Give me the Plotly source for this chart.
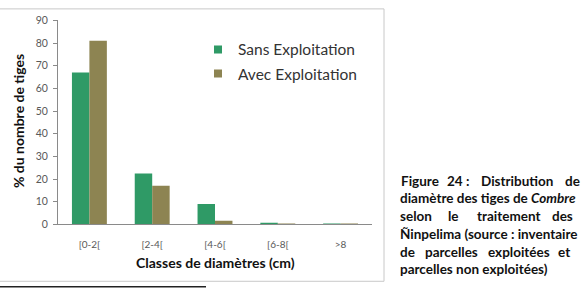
import plotly.graph_objects as go

categories = ["[0-2[", "[2-4[", "[4-6[", "[6-8[", ">8"]
sans_exploitation = [67, 22.5, 9, 0.7, 0.3]
avec_exploitation = [81, 17, 1.6, 0.1, 0.05]
series_names = ["Sans Exploitation", "Avec Exploitation"]
y_ticks = [0, 10, 20, 30, 40, 50, 60, 70, 80, 90]

GREEN = "#2f9a66"
OLIVE = "#8d8452"
FONT = "Lato"
W, H = 582, 294

def px(x):
    return x / W

def py(y):
    return (H - y) / H

fig = go.Figure()
for name, vals, col in [(series_names[0], sans_exploitation, GREEN),
                        (series_names[1], avec_exploitation, OLIVE)]:
    fig.add_trace(go.Bar(x=categories, y=vals, name=name, marker_color=col,
                         marker_line_width=0, showlegend=False))
    fig.add_trace(go.Scatter(x=[None], y=[None], mode="markers", name=name,
                             marker=dict(symbol="square", size=8, color=col),
                             legendgroup=name))

fig.update_layout(
    width=W, height=H, margin=dict(l=0, r=0, t=0, b=0),
    paper_bgcolor="white", plot_bgcolor="white",
    barmode="group", bargap=0.444, bargroupgap=0,
    font=dict(family=FONT, color="#333333"),
    xaxis=dict(domain=[px(58), px(372)], showline=True, linecolor="#8a8a8a",
               linewidth=1, ticks="", tickfont=dict(size=10, color="#595959"),
               ticklabelstandoff=11, showgrid=False, zeroline=False),
    yaxis=dict(domain=[py(227.7), py(15)], range=[0, 90], tickvals=y_ticks,
               showline=True, linecolor="#8a8a8a", linewidth=1, ticks="outside",
               ticklen=4, tickcolor="#8a8a8a", tickfont=dict(size=10.5, color="#595959"),
               ticklabelstandoff=3, showgrid=False, zeroline=False),
    legend=dict(x=px(198), y=py(28), xanchor="left", yanchor="top",
                font=dict(size=15.5, color="#333333", family=FONT),
                bgcolor="rgba(0,0,0,0)", traceorder="grouped", tracegroupgap=1,
                itemwidth=30),
    showlegend=True,
)

# chart frame and rule below
fig.add_shape(type="rect", xref="paper", yref="paper", x0=px(-2), x1=px(384),
              y0=py(287), y1=py(3), line=dict(color="#c8c8c8", width=1))
fig.add_shape(type="line", xref="paper", yref="paper", x0=0, x1=px(206),
              y0=py(292.7), y1=py(292.7), line=dict(color="#222222", width=1.5))

# axis titles
fig.add_annotation(text="<b>Classes de diamètres (cm)</b>", xref="paper", yref="paper",
                   x=px(215), y=py(267), showarrow=False, xanchor="center", yanchor="middle",
                   font=dict(size=14, color="#111111", family=FONT))
fig.add_annotation(text="<b>% du nombre de tiges</b>", xref="paper", yref="paper",
                   x=px(18), y=py(120), showarrow=False, textangle=-90,
                   xanchor="center", yanchor="middle",
                   font=dict(size=14, color="#111111", family=FONT))

# caption (justified lines placed word by word)
cap_font = dict(size=13.5, color="#111111", family=FONT)
line_y = [182, 200.5, 219, 237.5, 256, 274.5]
caption = [
    [(399, "Figure"), (445, "24 :"), (479, "Distribution"), (563, "de")],
    [(398, "diamètre des tiges de <i>Combre</i>")],
    [(398, "selon"), (446, "le"), (475, "traitement"), (550, "des")],
    [(398, "Ñinpelima (source : inventaire")],
    [(398, "de"), (423, "parcelles"), (486, "exploitées"), (556, "et")],
    [(398, "parcelles non exploitées)")],
]
for yy, words in zip(line_y, caption):
    for xx, w in words:
        fig.add_annotation(text="<b>" + w + "</b>", xref="paper", yref="paper",
                           x=px(xx), y=py(yy), showarrow=False, xanchor="left",
                           yanchor="middle", font=cap_font)

fig.write_html("out.html")
